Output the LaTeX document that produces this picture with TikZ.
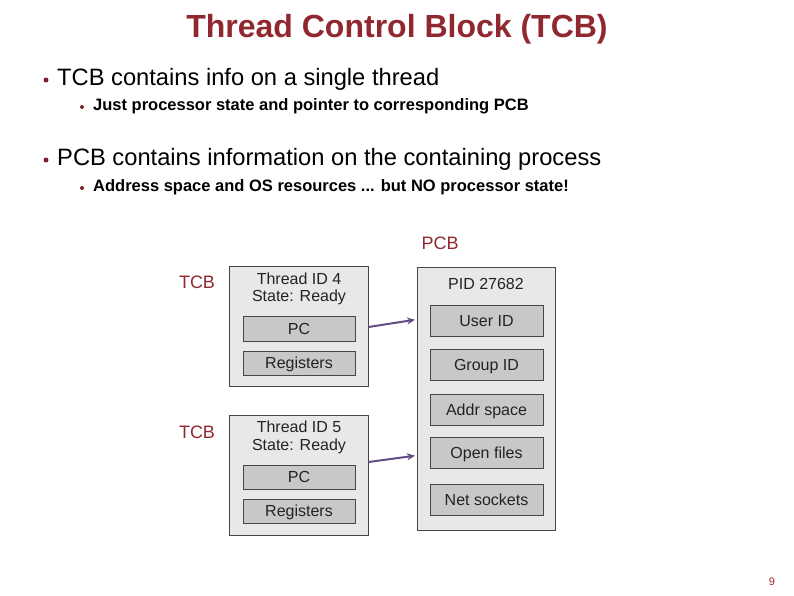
\documentclass[tikz,border=0pt]{standalone}
\usepackage{fontspec}
\setmainfont{Liberation Sans}
\usetikzlibrary{arrows.meta,calc}
\definecolor{titlered}{RGB}{145,40,48}
\definecolor{boxborder}{RGB}{70,70,70}
\definecolor{outerfill}{RGB}{232,232,232}
\definecolor{innerfill}{RGB}{200,200,200}
\definecolor{arrowpurple}{RGB}{98,78,128}
\definecolor{boxtext}{RGB}{35,35,35}
\tikzset{
  titletext/.style={font=\fontsize{32}{36}\selectfont\bfseries, text=titlered, inner sep=0pt, anchor=base},
  lvlone/.style={font=\fontsize{23.7}{28}\selectfont, inner sep=0pt, anchor=base west},
  lvltwo/.style={font=\fontsize{16.5}{20}\selectfont\bfseries, inner sep=0pt, anchor=base west},
  dotone/.style={fill=titlered!85!black, draw=none},
  redlabel/.style={font=\fontsize{18}{20}\selectfont, text=titlered, inner sep=0pt, text height=12.9pt, text depth=0pt},
  outerbox/.style={draw=boxborder, fill=outerfill, line width=1pt, inner sep=0pt},
  innerbox/.style={draw=boxborder, fill=innerfill, line width=1pt, inner sep=0pt,
     font=\fontsize{16}{18}\selectfont, text=boxtext, text height=11.5pt, text depth=0pt},
  boxline/.style={font=\fontsize{16}{18}\selectfont, text=boxtext, inner sep=0pt, text height=11.5pt, text depth=0pt},
  pointer/.style={draw=arrowpurple, line width=2pt, shorten >=1.5pt, -{Stealth[length=8pt,width=7pt]}},
}
\begin{document}
\begin{tikzpicture}[x=1pt,y=-1pt]
\path[use as bounding box, fill=white] (0,0) rectangle (794,595);

% title
\node[titletext] (title) at (397,37) {Thread Control Block (TCB)};

% bullets
\fill[dotone] (46,80) circle (2.5);
\node[lvlone] (b1) at (57,85) {TCB contains info on a single thread};
\fill[dotone] (82,107) circle (2);
\node[lvltwo] (b1a) at (93,110) {Just processor state and pointer to corresponding PCB};
\fill[dotone] (46,160) circle (2.5);
\node[lvlone] (b2) at (57,165) {PCB contains information on the containing process};
\fill[dotone] (82,188) circle (2);
\node[lvltwo] (b2a) at (93,191) {Address space and OS resources ... but NO processor state!};

% labels
\node[redlabel] (pcblabel) at (440,243) {PCB};
\node[redlabel] (tcblabelA) at (197,282) {TCB};
\node[redlabel] (tcblabelB) at (197,432) {TCB};

% TCB 1
\node[outerbox, minimum width=139pt, minimum height=120pt] (tcbA) at (298.5,326.5) {};
\node[boxline] (tcbAid) at (299,279) {Thread ID 4};
\node[boxline] (tcbAst) at (299,296) {State: Ready};
\node[innerbox, minimum width=112pt, minimum height=25pt] (tcbApc) at (299,328.5) {PC};
\node[innerbox, minimum width=112pt, minimum height=24pt] (tcbAreg) at (299,363) {Registers};

% TCB 2
\node[outerbox, minimum width=139pt, minimum height=120pt] (tcbB) at (298.5,475.5) {};
\node[boxline] (tcbBid) at (299,427) {Thread ID 5};
\node[boxline] (tcbBst) at (299,445) {State: Ready};
\node[innerbox, minimum width=112pt, minimum height=24pt] (tcbBpc) at (299,477) {PC};
\node[innerbox, minimum width=112pt, minimum height=24pt] (tcbBreg) at (299,511) {Registers};

% PCB
\node[outerbox, minimum width=138pt, minimum height=263pt] (pcb) at (486,398.5) {};
\node[boxline] (pcbpid) at (486,284) {PID 27682};
\node[innerbox, minimum width=113pt, minimum height=31pt] (uid) at (486.5,320.5) {User ID};
\node[innerbox, minimum width=113pt, minimum height=31pt] (gid) at (486.5,364.5) {Group ID};
\node[innerbox, minimum width=113pt, minimum height=31pt] (addr) at (486.5,409.5) {Addr space};
\node[innerbox, minimum width=113pt, minimum height=31pt] (files) at (486.5,452.5) {Open files};
\node[innerbox, minimum width=113pt, minimum height=31pt] (sock) at (486.5,499.5) {Net sockets};

% pointers
\coordinate (a1s) at ($(tcbA.north east)+(0,61)$);
\coordinate (a1e) at ($(pcb.north west)+(0,53)$);
\coordinate (a2s) at ($(tcbB.north east)+(0,47)$);
\coordinate (a2e) at ($(pcb.north west)+(0,189)$);
\draw[pointer] (a1s) -- (a1e);
\draw[pointer] (a2s) -- (a2e);

% page number
\node[font=\fontsize{11}{12}\selectfont, text=titlered, inner sep=0pt] (pagenum) at (772,582) {9};
\end{tikzpicture}
\end{document}
